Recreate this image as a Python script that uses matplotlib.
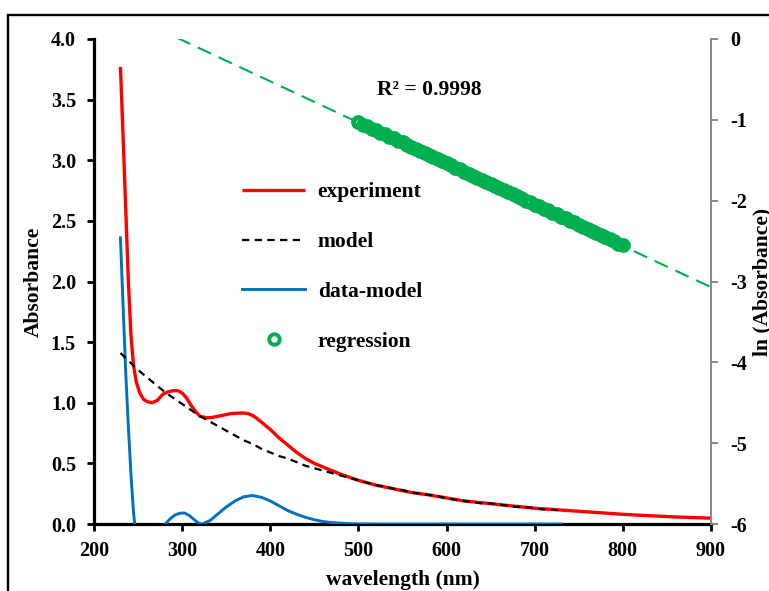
import matplotlib
matplotlib.use("Agg")
import matplotlib.pyplot as plt
from matplotlib.lines import Line2D
from matplotlib.patches import Rectangle
from matplotlib.ticker import FormatStrFormatter

plt.rcParams['font.family'] = ['Liberation Serif', 'DejaVu Serif']
plt.rcParams['font.weight'] = 'bold'
plt.rcParams['axes.unicode_minus'] = False

# ---------------- data ----------------
exp_wl = [230, 233, 236, 239, 242, 245, 248, 252, 256, 260, 266, 272, 278, 284, 290,
          295, 300, 305, 310, 315, 320, 328, 335, 345, 355, 365, 370, 375, 380, 385,
          390, 395, 400, 410, 420, 430, 440, 450, 460, 470, 480, 490, 500, 520, 540,
          560, 580, 600, 620, 640, 660, 680, 700, 720, 740, 760, 780, 800, 820, 840,
          860, 880, 900]
exp_abs = [3.77, 3.20, 2.60, 2.00, 1.55, 1.30, 1.17, 1.08, 1.03, 1.01, 1.00, 1.02, 1.07, 1.09, 1.10,
           1.10, 1.08, 1.04, 0.98, 0.93, 0.89, 0.875, 0.88, 0.895, 0.91, 0.915, 0.915, 0.91, 0.895, 0.87,
           0.84, 0.81, 0.78, 0.71, 0.65, 0.59, 0.54, 0.50, 0.47, 0.44, 0.41, 0.385, 0.36, 0.32, 0.29,
           0.26, 0.24, 0.215, 0.19, 0.175, 0.16, 0.145, 0.13, 0.12, 0.11, 0.10, 0.09, 0.08, 0.072, 0.065,
           0.058, 0.053, 0.048]

model_wl = [230, 240, 250, 260, 270, 280, 290, 300, 310, 320, 330, 340, 350, 360, 370,
            380, 390, 400, 410, 420, 430, 440, 450, 460, 470, 480, 490, 500, 510, 520,
            530, 540, 550, 560, 570, 580, 590, 600, 610, 620, 630, 640, 650, 660, 670,
            680, 690, 700, 710, 720, 730]
model_abs = [1.41, 1.34, 1.27, 1.21, 1.15, 1.09, 1.04, 0.99, 0.94, 0.89, 0.85, 0.81, 0.77, 0.73, 0.69,
             0.66, 0.62, 0.59, 0.56, 0.54, 0.51, 0.48, 0.46, 0.44, 0.42, 0.40, 0.38, 0.36, 0.34, 0.32,
             0.31, 0.29, 0.28, 0.26, 0.25, 0.24, 0.23, 0.21, 0.20, 0.19, 0.18, 0.17, 0.17, 0.16, 0.15,
             0.14, 0.14, 0.13, 0.12, 0.12, 0.11]

diff_wl = [230, 233, 236, 239, 242, 245, 248, 255, 262, 270, 276, 281, 286, 292, 298,
           303, 308, 313, 318, 322, 326, 332, 340, 350, 360, 370, 380, 390, 400, 410,
           420, 430, 440, 450, 460, 470, 480, 490, 500, 520, 560, 600, 650, 700, 730]
diff_abs = [2.36, 1.80, 1.25, 0.80, 0.40, 0.08, -0.10, -0.22, -0.20, -0.12, -0.05, 0.00, 0.04, 0.075, 0.09,
            0.09, 0.07, 0.04, 0.01, 0.00, 0.01, 0.03, 0.08, 0.14, 0.19, 0.225, 0.235, 0.22, 0.19, 0.15,
            0.11, 0.08, 0.055, 0.035, 0.02, 0.012, 0.007, 0.003, 0.001, 0.0, 0.0, 0.0, 0.0, 0.0, 0.0]

reg_wl = [500, 505, 510, 515, 520, 525, 530, 535, 540, 545, 550, 555, 560, 565, 570,
          575, 580, 585, 590, 595, 600, 605, 610, 615, 620, 625, 630, 635, 640, 645,
          650, 655, 660, 665, 670, 675, 680, 685, 690, 695, 700, 705, 710, 715, 720,
          725, 730, 735, 740, 745, 750, 755, 760, 765, 770, 775, 780, 785, 790, 795, 800]
reg_ln = [-1.03, -1.06, -1.08, -1.11, -1.13, -1.16, -1.18, -1.21, -1.23, -1.26, -1.28, -1.31, -1.34, -1.36, -1.39,
          -1.41, -1.44, -1.46, -1.49, -1.51, -1.54, -1.56, -1.59, -1.61, -1.64, -1.67, -1.69, -1.72, -1.74, -1.77,
          -1.79, -1.82, -1.84, -1.87, -1.89, -1.92, -1.94, -1.97, -2.00, -2.02, -2.05, -2.07, -2.10, -2.12, -2.15,
          -2.17, -2.20, -2.22, -2.25, -2.27, -2.30, -2.33, -2.35, -2.38, -2.40, -2.43, -2.45, -2.48, -2.50, -2.53, -2.55]

fit_wl = [200, 900]
fit_ln = [0.495, -3.07]

x_ticks = [200, 300, 400, 500, 600, 700, 800, 900]
y_ticks = [0.0, 0.5, 1.0, 1.5, 2.0, 2.5, 3.0, 3.5, 4.0]
y2_ticks = [0, -1, -2, -3, -4, -5, -6]

RED = '#FF0000'
BLUE = '#0070C0'
GREEN = '#00B050'
GREY = '#808080'
FS_TICK = 14.5
FS = 15.5

# ---------------- figure ----------------
fig = plt.figure(figsize=(7.69, 5.91), dpi=100)
ax = fig.add_axes([94/769, 1-524/591, (711-94)/769, (524-39)/591])
ax2 = ax.twinx()

# outer frame
fig.patches.append(Rectangle((8/769, -0.05), 1.2, 1-14.5/591+0.05, transform=fig.transFigure,
                             fill=False, edgecolor='black', linewidth=1.7, clip_on=False))

l_exp, = ax.plot(exp_wl, exp_abs, color=RED, lw=2.4, zorder=3, solid_capstyle='butt')
l_mod, = ax.plot(model_wl, model_abs, color='black', lw=1.6, dashes=(3.3, 2.4), zorder=4)
l_dif, = ax.plot(diff_wl, diff_abs, color=BLUE, lw=2.1, zorder=3)

ax2.plot(reg_wl, reg_ln, linestyle='none', marker='o', mfc='none', mec=GREEN,
         ms=7.0, mew=3.6, zorder=3)
ax2.plot(fit_wl, fit_ln, color=GREEN, lw=1.5, dashes=(7, 4), zorder=2)
reg_handle = Line2D([], [], linestyle='none', marker='o', mfc='none', mec=GREEN, ms=7.5, mew=2.8)

ax.set_xlim(200, 900)
ax.set_ylim(0, 4)
ax2.set_ylim(-6, 0)
ax.set_xticks(x_ticks)
ax.set_yticks(y_ticks)
ax2.set_yticks(y2_ticks)
ax.yaxis.set_major_formatter(FormatStrFormatter('%.1f'))

ax.spines['top'].set_visible(False)
ax2.spines['top'].set_visible(False)
ax.spines['right'].set_visible(False)
ax2.spines['left'].set_visible(False)
ax2.spines['bottom'].set_visible(False)
ax.spines['left'].set_linewidth(2.3)
ax.spines['bottom'].set_linewidth(2.3)
ax2.spines['right'].set_color(GREY)
ax2.spines['right'].set_linewidth(1.3)

ax.tick_params(axis='x', direction='out', length=5, width=2, labelsize=FS_TICK, pad=7)
ax.tick_params(axis='y', direction='out', length=5, width=2, labelsize=FS_TICK, pad=8)
ax2.tick_params(axis='y', direction='out', length=5, width=1.3, color=GREY, labelsize=FS_TICK, pad=9)
for lab in ax.get_xticklabels() + ax.get_yticklabels() + ax2.get_yticklabels():
    lab.set_fontweight('bold')

ax.set_xlabel('wavelength (nm)', fontsize=FS, fontweight='bold', labelpad=7)
ax.set_ylabel('Absorbance', fontsize=FS, fontweight='bold', labelpad=5)
ax2.set_ylabel('ln (Absorbance)', fontsize=FS, fontweight='bold', labelpad=4)

fig.text(429/769, 1-90/591, 'R² = 0.9998', ha='center', va='center', fontsize=FS, fontweight='bold')

leg = ax2.legend([l_exp, l_mod, l_dif, reg_handle], ['experiment', 'model', 'data-model', 'regression'],
                 loc='upper left', bbox_to_anchor=(238/769, 1-178/591), bbox_transform=fig.transFigure,
                 frameon=False, handlelength=2.9, handletextpad=0.6, labelspacing=1.38,
                 numpoints=1, borderaxespad=0, borderpad=0.2,
                 prop={'weight': 'bold', 'size': FS})

fig.savefig('out.png', dpi=100)
